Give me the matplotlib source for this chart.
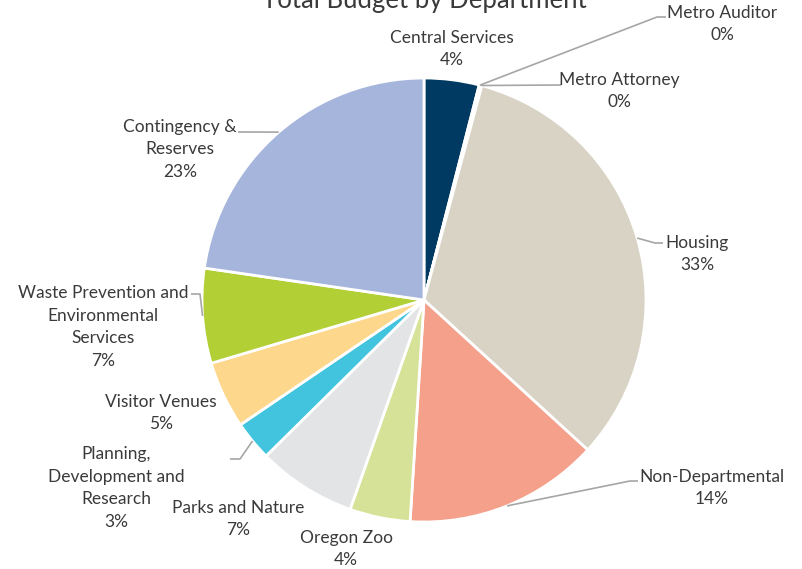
import matplotlib

matplotlib.use("Agg")
import matplotlib.pyplot as plt
import numpy as np

plt.rcParams["font.family"] = ["Lato", "DejaVu Sans"]

# budget share by department, percent (clockwise from 12 o'clock)
departments = [
    "Central Services",
    "Metro Auditor",
    "Metro Attorney",
    "Housing",
    "Non-Departmental",
    "Oregon Zoo",
    "Parks and Nature",
    "Planning,\nDevelopment and\nResearch",
    "Visitor Venues",
    "Waste Prevention and\nEnvironmental\nServices",
    "Contingency &\nReserves",
]
shares = [4.0, 0.1, 0.1, 32.6, 14.2, 4.4, 7.2, 2.9, 4.9, 6.9, 22.7]
colors = [
    "#003A63", "#E8ECEF", "#A9D18E", "#D9D3C5", "#F5A08B", "#D5E298",
    "#E3E4E6", "#42C4DF", "#FDD78B", "#B3CF36", "#A6B5DC",
]

W, H = 802, 569
CX, CY, R = 424, 300, 222

# label block centres and leader bends, pixel coords from the top-left
label_pos = [
    (452, 49), (722, 24), (619, 91), (697, 254), (712, 488), (346, 549),
    (238, 519), (116, 488), (161, 413), (103, 327), (180, 149),
]
leaders = {
    1: [(657, 17), (666, 17)],
    2: [(561, 85)],
    3: [(655, 243), (663, 243)],
    4: [(630, 481), (638, 481)],
    7: [(240, 459), (230, 459)],
    9: [(200, 294), (191, 294)],
    10: [(238, 132)],
}

fig = plt.figure(figsize=(W / 100, H / 100), dpi=100)
ax = fig.add_axes([0, 0, 1, 1])

wedges, _ = ax.pie(
    shares,
    colors=colors,
    startangle=90,
    counterclock=False,
    center=(CX, H - CY),
    radius=R,
    wedgeprops={"edgecolor": "white", "linewidth": 2},
)
ax.set_xlim(0, W)
ax.set_ylim(0, H)
ax.set_aspect("equal")
ax.axis("off")

for i, (name, share) in enumerate(zip(departments, shares)):
    lx, ly = label_pos[i]
    ax.text(
        lx, H - ly, f"{name}\n{share:.0f}%",
        ha="center", va="center", multialignment="center",
        fontsize=12.5, color="#3A3A3A", linespacing=1.5,
    )
    if i in leaders:
        w = wedges[i]
        mid = np.deg2rad((w.theta1 + w.theta2) / 2)
        sx = CX + R * np.cos(mid)
        sy = (H - CY) + R * np.sin(mid)
        xs = [sx] + [p[0] for p in leaders[i]]
        ys = [sy] + [H - p[1] for p in leaders[i]]
        ax.plot(xs, ys, color="#A6A6A6", linewidth=1.2, solid_capstyle="butt")

ax.text(424, H - 8, "Total Budget by Department", ha="center", va="baseline",
        fontsize=18.5, color="#3A3A3A")

fig.savefig("out.png", dpi=100)
plt.close(fig)
